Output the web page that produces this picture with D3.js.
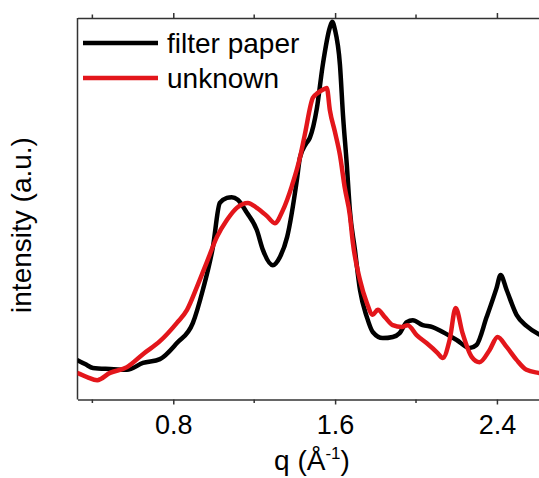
<!DOCTYPE html>
<html>
<head>
<meta charset="utf-8">
<script src="https://cdn.jsdelivr.net/npm/d3@7"></script>
<style>
  body { margin: 0; background: #fff; }
  text { font-family: "Liberation Sans", Arial, sans-serif; }
</style>
</head>
<body>
<script>
// q values (1/Angstrom) and intensities (a.u.)
const qPaper = [0.324, 0.364, 0.403, 0.487, 0.571, 0.650, 0.734, 0.818, 0.897, 0.946,
                0.996, 1.030, 1.065, 1.089, 1.119, 1.164, 1.213, 1.243, 1.292, 1.327,
                1.363, 1.411, 1.426, 1.455, 1.475, 1.510, 1.539, 1.574, 1.586, 1.599,
                1.624, 1.639, 1.658, 1.673, 1.698, 1.723, 1.757, 1.786, 1.836, 1.885,
                1.919, 1.954, 1.984, 2.033, 2.082, 2.132, 2.201, 2.265, 2.299, 2.349,
                2.398, 2.418, 2.448, 2.497, 2.546, 2.605, 2.640];
const iPaper = [10.5, 9.4, 8.4, 8.1, 7.9, 9.7, 10.7, 14.9, 20.2, 28.8,
                40.1, 51.6, 52.9, 53.1, 52.4, 49.0, 44.5, 39.3, 35.3, 37.4,
                42.7, 57.6, 63.4, 67.0, 68.6, 76.4, 87.7, 97.5, 99.0, 97.0,
                87.7, 74.6, 61.5, 49.7, 39.3, 28.8, 21.7, 17.8, 16.2, 16.5,
                17.5, 20.4, 20.9, 19.6, 19.1, 17.8, 15.7, 13.6, 14.4, 21.7,
                29.3, 32.7, 28.8, 22.3, 19.4, 17.3, 16.5];

const qUnknown = [0.324, 0.374, 0.424, 0.487, 0.571, 0.650, 0.734, 0.818, 0.868, 0.917,
                  0.966, 1.016, 1.065, 1.114, 1.169, 1.213, 1.262, 1.302, 1.342, 1.386,
                  1.426, 1.450, 1.490, 1.515, 1.539, 1.559, 1.574, 1.599, 1.624, 1.648,
                  1.673, 1.688, 1.723, 1.757, 1.786, 1.811, 1.846, 1.885, 1.930, 1.959,
                  2.003, 2.052, 2.107, 2.132, 2.166, 2.196, 2.230, 2.275, 2.314, 2.364,
                  2.403, 2.448, 2.497, 2.546, 2.605, 2.640];
const iUnknown = [7.1, 6.0, 5.2, 7.1, 8.6, 12.0, 15.4, 20.2, 23.6, 29.6,
                  36.1, 42.7, 47.1, 50.3, 51.6, 50.3, 48.2, 46.3, 49.7, 56.0,
                  63.4, 69.4, 79.1, 80.4, 81.2, 81.7, 75.9, 70.2, 64.1, 55.5,
                  48.4, 41.1, 31.4, 25.4, 22.3, 23.6, 21.7, 19.6, 19.1, 19.6,
                  17.0, 14.9, 12.3, 11.0, 15.7, 24.1, 17.5, 11.3, 9.9, 13.1,
                  16.5, 13.9, 10.5, 7.9, 7.1, 6.8];

const seriesNames = ["filter paper", "unknown"];
const seriesColors = ["#000000", "#e3161b"];
const majorTicks = [0.8, 1.6, 2.4];
const minorTicks = [0.4, 1.2, 2.0];

// Width and Height
const w = 539;
const h = 478;
const padL = 77.5, padR = 547.5, padT = 18, padB = 399.5;

const x = d3.scaleLinear().domain([0.3265, 2.65]).range([padL, padR]);
const y = d3.scaleLinear().domain([0, 100]).range([400, 18]);

const svg = d3.select("body")
                .append("svg")
                .attr("width", w)
                .attr("height", h);

// frame (no y ticks)
svg.append("line")
    .attr("x1", padL).attr("x2", padL)
    .attr("y1", padT).attr("y2", padB)
    .attr("stroke", "#333").attr("stroke-width", 1.5);

// bottom axis
const xAxis = d3.axisBottom(x)
                .tickValues(majorTicks)
                .tickSize(5)
                .tickSizeOuter(0)
                .tickFormat(d3.format(".1f"));
const gx = svg.append("g")
    .attr("transform", "translate(0," + padB + ")")
    .call(xAxis);
gx.selectAll("text")
    .attr("dy", null)
    .attr("y", 34)
    .style("font-size", "27px")
    .style("fill", "#000");

// minor ticks
gx.selectAll(".minor")
    .data(minorTicks)
    .enter()
    .append("line")
    .attr("class", "minor")
    .attr("x1", d => x(d)).attr("x2", d => x(d))
    .attr("y1", 0).attr("y2", 3.5);

// top axis, ticks pointing up, no labels
const gt = svg.append("g")
    .attr("transform", "translate(0," + padT + ")")
    .call(d3.axisTop(x).tickValues(majorTicks).tickSize(5).tickSizeOuter(0).tickFormat(""));
gt.selectAll(".minor")
    .data(minorTicks)
    .enter()
    .append("line")
    .attr("class", "minor")
    .attr("x1", d => x(d)).attr("x2", d => x(d))
    .attr("y1", 0).attr("y2", -3.5);

svg.selectAll(".domain").attr("stroke", "#333").attr("stroke-width", 1.5);
svg.selectAll(".tick line, .minor").attr("stroke", "#333").attr("stroke-width", 1.5);

// curves
const line = d3.line()
                .curve(d3.curveMonotoneX)
                .x(d => x(d[0]))
                .y(d => y(d[1]));

const series = [d3.zip(qPaper, iPaper), d3.zip(qUnknown, iUnknown)];

svg.append("clipPath").attr("id", "clip")
    .append("rect")
    .attr("x", padL).attr("y", padT)
    .attr("width", padR - padL).attr("height", padB - padT);

svg.append("g")
    .attr("clip-path", "url(#clip)")
    .selectAll("path")
    .data(series)
    .enter()
    .append("path")
    .attr("d", line)
    .attr("fill", "none")
    .attr("stroke", (d, i) => seriesColors[i])
    .attr("stroke-width", 4.5)
    .attr("stroke-linejoin", "round");

// legend
const legend = svg.selectAll(".legend")
    .data(seriesNames)
    .enter()
    .append("g")
    .attr("class", "legend")
    .attr("transform", (d, i) => "translate(83," + (43 + i * 35) + ")");

legend.append("line")
    .attr("x1", 0).attr("x2", 75)
    .attr("stroke", (d, i) => seriesColors[i])
    .attr("stroke-width", 4.5);

legend.append("text")
    .attr("x", 84)
    .attr("y", 10)
    .style("font-size", "28px")
    .text(d => d);

// axis titles
const xTitle = svg.append("text")
    .attr("x", 312)
    .attr("y", 470)
    .attr("text-anchor", "middle")
    .style("font-size", "28px");
xTitle.append("tspan").text("q (Å");
xTitle.append("tspan").attr("dy", -11).style("font-size", "17px").text("-1");
xTitle.append("tspan").attr("dy", 11).text(")");

svg.append("text")
    .attr("transform", "translate(31,225) rotate(-90)")
    .attr("text-anchor", "middle")
    .style("font-size", "28px")
    .text("intensity (a.u.)");
</script>
</body>
</html>
